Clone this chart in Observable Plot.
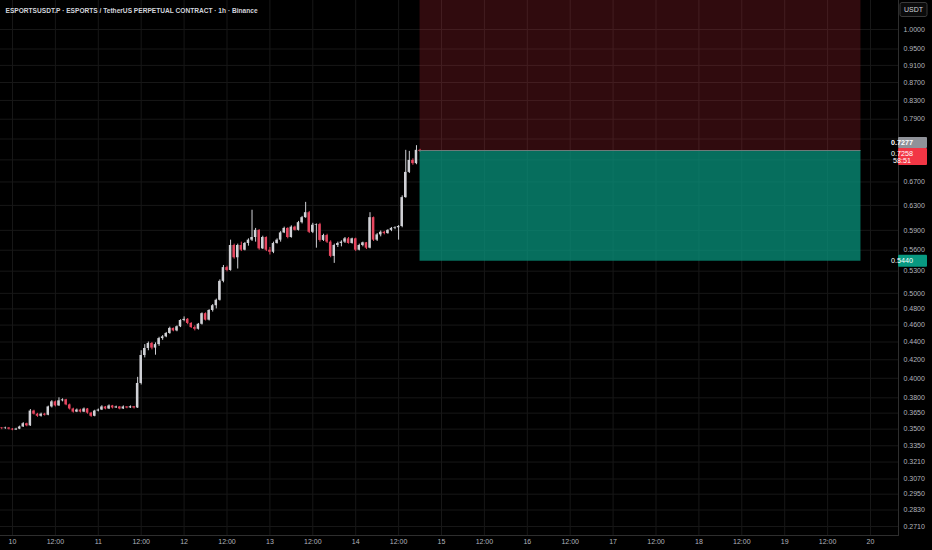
<!DOCTYPE html>
<html><head><meta charset="utf-8">
<script src="https://cdn.jsdelivr.net/npm/d3@7"></script>
<script src="https://cdn.jsdelivr.net/npm/@observablehq/plot@0.6"></script>
<style>
html,body{margin:0;padding:0;background:#000;}
body{width:932px;height:550px;overflow:hidden;}
#chart svg{display:block;}
</style>
</head><body><div id="chart"></div>
<script>
const title = "ESPORTSUSDT.P · ESPORTS / TetherUS PERPETUAL CONTRACT · 1h · Binance";
const currency = "USDT";
const firstCandle = "2025-07-09T21:00:00Z";

const opens = [.3510,.3505,.3510,.3500,.3492,.3500,.3520,.3550,.3530,.3670,
.3640,.3620,.3640,.3630,.3710,.3760,.3720,.3770,.3780,.3730,
.3690,.3660,.3680,.3660,.3690,.3650,.3620,.3670,.3680,.3710,
.3690,.3720,.3700,.3710,.3690,.3710,.3700,.3712,.3700,.3946,
.4247,.4326,.4383,.4330,.4370,.4440,.4460,.4500,.4560,.4530,
.4580,.4656,.4670,.4620,.4570,.4550,.4610,.4740,.4660,.4780,
.4840,.4910,.5160,.5350,.5310,.5670,.5490,.5670,.5600,.5700,
.5750,.5790,.5900,.5620,.5790,.5600,.5570,.5700,.5750,.5860,
.5930,.5790,.5950,.5900,.6020,.6100,.6180,.5870,.5980,.5990,
.5746,.5820,.5720,.5510,.5670,.5700,.5720,.5770,.5700,.5770,
.5600,.5670,.5710,.5630,.6100,.5750,.5830,.5870,.5850,.5900,
.5930,.5940,.5960,.6430,.6870,.7090,.7030,.7280];
const highs = [.3515,.3518,.3515,.3505,.3508,.3528,.3560,.3555,.3685,.3678,
.3648,.3650,.3648,.3718,.3772,.3768,.3800,.3790,.3785,.3738,
.3698,.3690,.3688,.3700,.3695,.3658,.3678,.3690,.3722,.3715,
.3730,.3725,.3718,.3715,.3720,.3712,.3720,.3715,.4010,.4300,
.4370,.4400,.4395,.4390,.4455,.4475,.4512,.4575,.4565,.4590,
.4665,.4700,.4680,.4630,.4590,.4620,.4750,.4750,.4790,.4855,
.4925,.5180,.5380,.5370,.5750,.5690,.5690,.5720,.5715,.5770,
.6220,.5930,.5910,.5810,.5800,.5640,.5720,.5770,.5880,.5950,
.5940,.5970,.5965,.6040,.6120,.6350,.6200,.6010,.6000,.6010,
.5840,.5840,.5740,.5690,.5720,.5740,.5790,.5790,.5780,.5780,
.5690,.5720,.5715,.6180,.6110,.5850,.5890,.5885,.5910,.5945,
.5955,.5975,.6460,.7280,.7260,.7120,.7370,.7300];
const lows = [.3495,.3498,.3492,.3485,.3488,.3495,.3515,.3522,.3525,.3632,
.3610,.3612,.3622,.3625,.3700,.3710,.3715,.3760,.3722,.3680,
.3650,.3655,.3652,.3655,.3640,.3610,.3615,.3662,.3675,.3682,
.3685,.3690,.3695,.3682,.3685,.3692,.3695,.3690,.3695,.3930,
.4220,.4300,.4310,.4250,.4350,.4420,.4450,.4490,.4520,.4520,
.4570,.4640,.4605,.4560,.4530,.4540,.4600,.4650,.4650,.4760,
.4800,.4900,.5140,.5290,.5300,.5470,.5330,.5580,.5590,.5660,
.5730,.5720,.5600,.5610,.5580,.5530,.5550,.5690,.5720,.5850,
.5770,.5780,.5890,.5890,.6000,.6090,.5850,.5850,.5630,.5720,
.5730,.5700,.5490,.5410,.5640,.5650,.5700,.5690,.5690,.5580,
.5590,.5650,.5610,.5620,.5730,.5730,.5800,.5830,.5840,.5880,
.5910,.5750,.5940,.6420,.6850,.7000,.7010,.7240];
const closes = [.3505,.3510,.3500,.3492,.3500,.3520,.3550,.3530,.3670,.3640,
.3620,.3640,.3630,.3710,.3760,.3720,.3770,.3780,.3730,.3690,
.3660,.3680,.3660,.3690,.3650,.3620,.3670,.3680,.3710,.3690,
.3720,.3700,.3710,.3690,.3710,.3700,.3712,.3700,.3946,.4247,
.4326,.4383,.4330,.4370,.4440,.4460,.4500,.4560,.4530,.4580,
.4656,.4670,.4620,.4570,.4550,.4610,.4740,.4660,.4780,.4840,
.4910,.5160,.5350,.5310,.5670,.5490,.5670,.5600,.5700,.5750,
.5790,.5900,.5620,.5790,.5600,.5570,.5700,.5750,.5860,.5930,
.5790,.5950,.5900,.6020,.6100,.6180,.5870,.5980,.5990,.5746,
.5820,.5720,.5510,.5670,.5700,.5720,.5770,.5700,.5770,.5600,
.5670,.5710,.5630,.6100,.5750,.5830,.5870,.5850,.5900,.5930,
.5940,.5960,.6430,.6870,.7090,.7030,.7280,.7258];

// grid levels (0.71 sits under the price badges, so it has a grid line but no visible label)
const gridPrices = [1.0,0.95,0.91,0.87,0.83,0.79,0.75,0.71,0.67,0.63,0.59,0.56,0.53,0.50,0.48,0.46,0.44,0.42,0.40,0.38,0.365,0.35,0.335,0.321,0.307,0.295,0.283,0.271];
const priceTicks = [1.0,0.95,0.91,0.87,0.83,0.79,0.67,0.63,0.59,0.56,0.53,0.50,0.48,0.46,0.44,0.42,0.40,0.38,0.365,0.35,0.335,0.321,0.307,0.295,0.283,0.271];
const timeTicks = ["2025-07-10T00:00Z","2025-07-10T12:00Z","2025-07-11T00:00Z","2025-07-11T12:00Z",
"2025-07-12T00:00Z","2025-07-12T12:00Z","2025-07-13T00:00Z","2025-07-13T12:00Z",
"2025-07-14T00:00Z","2025-07-14T12:00Z","2025-07-15T00:00Z","2025-07-15T12:00Z",
"2025-07-16T00:00Z","2025-07-16T12:00Z","2025-07-17T00:00Z","2025-07-17T12:00Z",
"2025-07-18T00:00Z","2025-07-18T12:00Z","2025-07-19T00:00Z","2025-07-19T12:00Z",
"2025-07-20T00:00Z"].map(s => new Date(s));

const entryPrice = 0.7277, targetPrice = 0.5440, stopPrice = 1.08;
const lastPrice = 0.7258, countdown = "58:51";
const positionStart = new Date("2025-07-14T18:00:00Z");
const positionEnd = new Date("2025-07-19T21:20:00Z");

const upColor = "#d0d1d6", downColor = "#e8465f";
const gridColor = "#171717", textColor = "#b2b5be", borderColor = "#2e2e2e";
const font = "'Liberation Sans', Arial, sans-serif";

const t0 = new Date(firstCandle);
const candles = closes.map((c, i) => ({
  t: new Date(+t0 + i * 3600e3), o: opens[i], h: highs[i], l: lows[i], c
}));
const half = 21 * 60e3;
const col = d => d.c >= d.o ? upColor : downColor;
const pos = [{start: positionStart, end: positionEnd, entry: entryPrice, target: targetPrice, stop: stopPrice}];

const chart = Plot.plot({
  width: 932, height: 550,
  marginLeft: 0, marginRight: 34, marginTop: 0, marginBottom: 15,
  style: {background: "#000", fontFamily: font, overflow: "visible"},
  x: {type: "utc", domain: [timeTicks[0], timeTicks[timeTicks.length - 1]], range: [12, 870], axis: null},
  y: {type: "log", domain: [0.271, 1.0], range: [526, 29], axis: null},
  marks: [
    Plot.ruleY(gridPrices, {stroke: gridColor}),
    Plot.ruleX(timeTicks, {stroke: gridColor}),
    Plot.ruleX(candles, {x: "t", y1: "l", y2: "h", stroke: col, strokeWidth: 1}),
    Plot.rect(candles, {x1: d => new Date(+d.t - half), x2: d => new Date(+d.t + half),
      y1: d => Math.min(d.o, d.c), y2: d => Math.max(d.o, d.c), fill: col}),
    Plot.rect(pos, {x1: "start", x2: "end", y1: "entry", y2: "stop", fill: "#f23645", fillOpacity: 0.2}),
    Plot.rect(pos, {x1: "start", x2: "end", y1: "target", y2: "entry", fill: "#089981", fillOpacity: 0.72}),
    Plot.ruleY(pos, {x1: "start", x2: "end", y: "entry", stroke: "#6f7a7a", strokeWidth: 1}),
    Plot.text(priceTicks, {y: d => d, text: d => d.toFixed(4), frameAnchor: "right", textAnchor: "start",
      dx: 5, fill: textColor, fontSize: 7}),
    Plot.text(timeTicks, {x: d => d, text: d => d.getUTCHours() === 0 ? String(d.getUTCDate()) : "12:00",
      frameAnchor: "bottom", dy: 8, fill: textColor, fontSize: 7}),
    Plot.frame({anchor: "right", stroke: borderColor}),
    Plot.frame({anchor: "bottom", stroke: borderColor}),
    Plot.text([title], {frameAnchor: "top-left", dx: 5, dy: 8, fill: "#d1d4dc", fontSize: 6.6, fontWeight: 600})
  ]
});

document.getElementById("chart").append(chart);

// price badges on the right axis, positioned via Plot's y scale
const ys = chart.scale("y");
const svg = d3.select(chart);
const axX = 898, badgeW = 29;
function badge(yTop, h, bg, lines, fg, weight) {
  const g = svg.append("g");
  g.append("rect").attr("x", axX).attr("y", yTop).attr("width", badgeW).attr("height", h)
    .attr("rx", 1).attr("fill", bg);
  lines.forEach((t, i) => g.append("text").attr("x", axX + 4).attr("y", yTop + 5.5 + i * 7.5)
    .attr("dy", "0.32em").attr("fill", fg).attr("font-size", 7.2).attr("font-weight", weight)
    .attr("font-family", font).text(t));
}
const yEntry = ys.apply(entryPrice), yLast = ys.apply(lastPrice), yTarget = ys.apply(targetPrice);
badge(yEntry - 13, 11, "#8f9299", [entryPrice.toFixed(4)], "#fff", 600);
badge(yLast - 3, 17, "#f23645", [lastPrice.toFixed(4), countdown], "#fff", 400);
badge(yTarget - 6, 12, "#089981", [targetPrice.toFixed(4)], "#fff", 400);

// currency box
const cg = svg.append("g");
cg.append("rect").attr("x", 900).attr("y", 2.5).attr("width", 27).attr("height", 14).attr("rx", 2)
  .attr("fill", "#0b0b0b").attr("stroke", "#3a3a3a");
cg.append("text").attr("x", 913.5).attr("y", 9.5).attr("dy", "0.32em").attr("text-anchor", "middle")
  .attr("fill", "#d1d4dc").attr("font-size", 7).attr("font-family", font).text(currency);
</script>
</body></html>
